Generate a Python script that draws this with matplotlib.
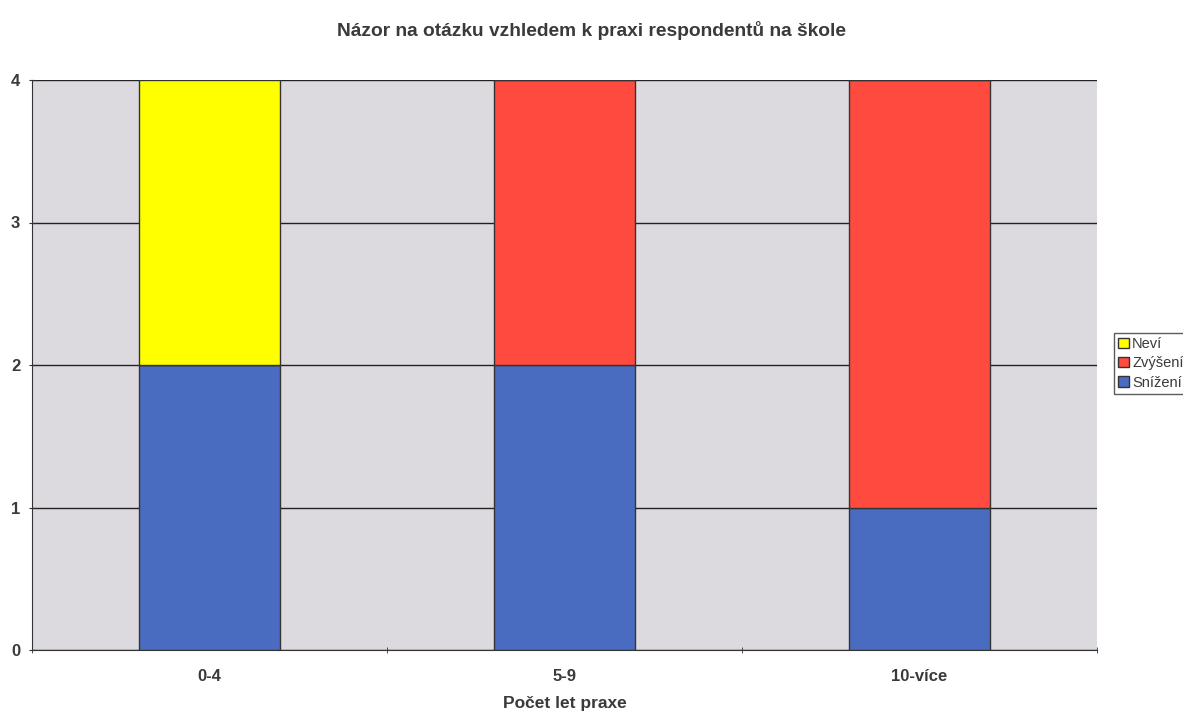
import matplotlib
matplotlib.use("Agg")
import matplotlib.pyplot as plt
import numpy as np

plt.rcParams['font.family'] = ['Liberation Sans', 'DejaVu Sans']

categories = ["0-4", "5-9", "10-více"]
snizeni = [2, 2, 1]
zvyseni = [0, 2, 3]
nevi = [2, 0, 0]

c_blue = "#4a6cc0"
c_red = "#ff4a40"
c_yellow = "#ffff00"
txt = "#3a3a3a"

fig = plt.figure(figsize=(11.83, 7.11), dpi=100)
ax = fig.add_axes([32/1183, 61/711, 1065/1183, 570/711])
ax.set_facecolor("#dcdadf")

x = np.arange(len(categories))
w = 0.395
b1 = ax.bar(x, snizeni, w, color=c_blue, edgecolor="#333333", linewidth=1.0, label="Snížení", zorder=3)
b2 = ax.bar(x, zvyseni, w, bottom=snizeni, color=c_red, edgecolor="#333333", linewidth=1.0, label="Zvýšení", zorder=3)
bottom3 = np.array(snizeni) + np.array(zvyseni)
b3 = ax.bar(x, nevi, w, bottom=bottom3, color=c_yellow, edgecolor="#333333", linewidth=1.0, label="Neví", zorder=3)

ax.set_xlim(-0.5, 2.5)
ax.set_ylim(0, 4)
ax.set_yticks([0, 1, 2, 3, 4])
ax.yaxis.grid(True, color="#222222", linewidth=1.0, zorder=1)
ax.set_axisbelow(True)

ax.set_xticks(x)
ax.set_xticklabels(categories, fontsize=12, fontweight='bold', color=txt)
ax.set_xticks([-0.5, 0.5, 1.5, 2.5], minor=True)
ax.tick_params(axis='x', which='major', length=0, pad=14)
ax.tick_params(axis='x', which='minor', length=5, direction='inout', color="#333333")
ax.tick_params(axis='y', length=5, direction='inout', color="#333333", labelsize=12, pad=6)
for lab in ax.get_yticklabels():
    lab.set_fontweight('bold')
    lab.set_color(txt)

for s in ['top', 'right']:
    ax.spines[s].set_visible(False)
ax.spines['left'].set_color("#333333")
ax.spines['bottom'].set_color("#333333")

ax.set_xlabel("Počet let praxe", fontsize=12.5, fontweight='bold', color=txt, labelpad=8)
fig.text(0.5, 1 - 30/711, "Názor na otázku vzhledem k praxi respondentů na škole",
         ha='center', va='center', fontsize=13.8, fontweight='bold', color=txt)

leg = fig.legend(handles=[b3, b2, b1], labels=["Neví", "Zvýšení", "Snížení"],
                 loc='upper left', bbox_to_anchor=(1114/1183, 1 - 333/711),
                 frameon=True, fancybox=False, edgecolor="#333333",
                 fontsize=10.5, handlelength=0.7, handleheight=0.7, handletextpad=0.25,
                 borderpad=0.3, labelspacing=0.35, borderaxespad=0)
leg.get_frame().set_linewidth(1.0)
for t in leg.get_texts():
    t.set_color(txt)

fig.savefig("out.png", dpi=100)
